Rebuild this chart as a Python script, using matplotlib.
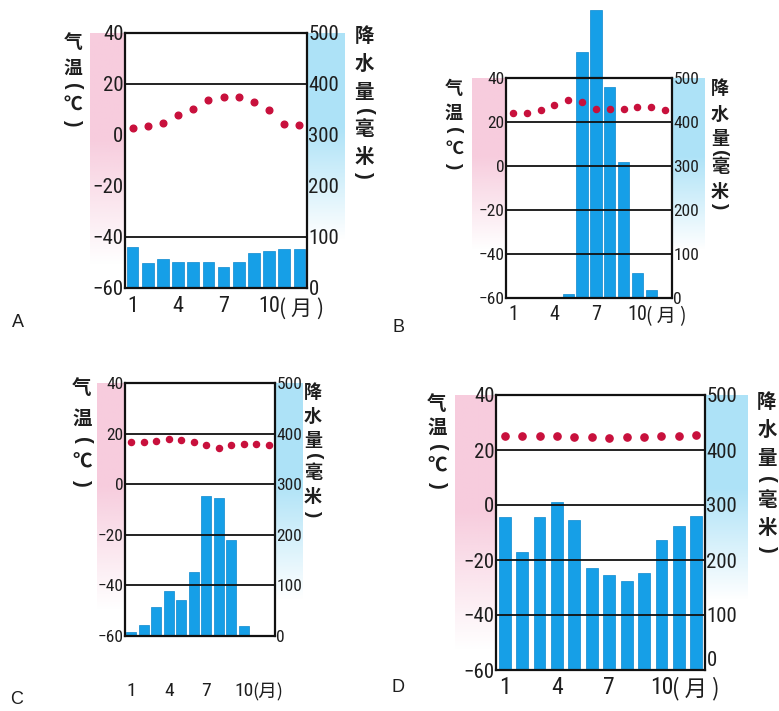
import numpy as np
import matplotlib
matplotlib.use("Agg")
import matplotlib.pyplot as plt
from matplotlib import font_manager as fm

plt.rcParams['font.family'] = ['Liberation Sans', 'Noto Sans CJK SC', 'DejaVu Sans']

# pick a narrow latin face for the numbers if one is installed
_names = {f.name for f in fm.fontManager.ttflist}
NUM_FAMILY = ['Liberation Sans']
NUM_STRETCH = 'normal'
for cand in ['Liberation Sans Narrow', 'Roboto Condensed', 'Open Sans Condensed']:
    if cand in _names:
        NUM_FAMILY = [cand]
        break
else:
    if any(f.name == 'DejaVu Sans' and str(f.stretch) == 'condensed'
           for f in fm.fontManager.ttflist):
        NUM_FAMILY = ['DejaVu Sans']
        NUM_STRETCH = 'condensed'
CJK = ['Noto Sans CJK SC', 'DejaVu Sans']

# ---------------- data ----------------
months = list(range(1, 13))
xtick_months = [1, 4, 7, 10]
xtick_labels = ["1", "4", "7", "10"]
month_unit = "(月)"

temp_ticks = [-60, -40, -20, 0, 20, 40]
temp_tick_labels = ["−60", "−40", "−20", "0", "20", "40"]
prec_ticks = [0, 100, 200, 300, 400, 500]
prec_tick_labels = ["0", "100", "200", "300", "400", "500"]

temp_label_chars = ["气", "温", "(", "℃", ")"]
prec_label_chars = ["降", "水", "量", "(", "毫", "米", ")"]

A_temp = [2.7, 3.5, 4.7, 7.8, 10, 13.7, 15, 15, 13, 9.8, 4.3, 3.9]
A_prec = [80, 49, 57, 51, 51, 51, 41, 51, 69, 73, 76, 76]
B_temp = [24, 24, 25.5, 27.7, 30, 29, 26, 26, 26, 27, 27, 25.5]
B_prec = [0, 0, 0, 2, 8, 560, 655, 479, 310, 57, 18, 2]
C_temp = [16.7, 16.7, 17.1, 18, 17.4, 16.7, 15.4, 14.5, 15.4, 16, 16, 15.4]
C_prec = [8, 21, 58, 89, 71, 127, 277, 272, 190, 20, 0, 0]
D_temp = [25.1, 25, 25, 25, 24.7, 24.6, 24.2, 24.6, 24.6, 25, 25, 25.5]
D_prec = [279, 215, 279, 306, 273, 185, 173, 161, 177, 236, 262, 280]

A_grid = [20, -40]
B_grid = [20, 0, -20, -40]
C_grid = [20, 0, -20, -40]
D_grid = [20, 0, -20, -40]

# ---------------- layout (pixels) ----------------
W, H = 779, 711
fig = plt.figure(figsize=(W / 100, H / 100), dpi=100)
fig.patch.set_facecolor("white")


def frac(L, T, R, B):
    return [L / W, 1 - B / H, (R - L) / W, (B - T) / H]


def px(x, y):
    return x / W, 1 - y / H


BAR = "#169fe7"
BAR_EDGE = "#0c88cf"
DOT = "#c8103c"
INK = "#1e1e1e"

panels = [
    dict(name="A", temp=A_temp, prec=A_prec, grid=A_grid, bw=0.78,
         box=(125, 33, 307, 288), pink=(90, 33, 125, 265), blue=(307, 33, 345, 240),
         tfs=15, xfs=16, xpad=6, spaced=True, zero_va="center_baseline",
         ll=dict(x=73, y0=42, s=26, p=0.7, fs=13.5),
         rl=dict(x=364, y0=37, s=28, p=0.65, fs=14),
         letter=(18, 323), ms=4.8, clip=True),
    dict(name="B", temp=B_temp, prec=B_prec, grid=B_grid, bw=0.82,
         box=(506, 78, 672, 298), pink=(472, 78, 506, 250), blue=(672, 78, 705, 250),
         tfs=12.5, xfs=14.5, xpad=5, spaced=True, zero_va="center_baseline",
         ll=dict(x=454, y0=88, s=25, p=0.7, fs=13),
         rl=dict(x=720, y0=89, s=25, p=0.55, fs=13),
         letter=(398, 328), ms=4.4, clip=False),
    dict(name="C", temp=C_temp, prec=C_prec, grid=C_grid, bw=0.8,
         box=(125, 383, 275, 636), pink=(97, 383, 125, 610), blue=(275, 383, 303, 600),
         tfs=12.5, xfs=14, xpad=33, spaced=False, zero_va="center_baseline",
         ll=dict(x=82, y0=389, s=30, p=0.72, fs=14),
         rl=dict(x=313, y0=393, s=23.5, p=0.7, fs=13),
         letter=(17, 700), ms=4.4, clip=True),
    dict(name="D", temp=D_temp, prec=D_prec, grid=D_grid, bw=0.68,
         box=(496, 395, 705, 670), pink=(455, 395, 496, 650), blue=(705, 395, 748, 600),
         tfs=15, xfs=17, xpad=4, spaced=True, zero_va="bottom",
         ll=dict(x=437, y0=404, s=24, p=0.8, fs=14),
         rl=dict(x=767, y0=402, s=28, p=0.75, fs=14),
         letter=(398, 688), ms=5.2, clip=True),
]


def band(ext, rgb, solid=0.45):
    ax = fig.add_axes(frac(*ext), zorder=-5)
    n = 200
    a = np.ones(n)
    k = int(n * solid)
    a[k:] = np.linspace(1, 0, n - k)
    img = np.zeros((n, 1, 4))
    img[:, 0, :3] = rgb
    img[:, 0, 3] = a
    ax.imshow(img, aspect="auto", extent=(0, 1, 0, 1), interpolation="bilinear")
    ax.set_axis_off()


def vertical_label(chars, spec):
    y = spec["y0"]
    prev_paren = False
    for i, ch in enumerate(chars):
        is_paren = ch in "()"
        if i > 0:
            step = spec["s"] * (spec["p"] if (is_paren or prev_paren) else 1.0)
            y += step
        if is_paren:
            fig.text(*px(spec["x"], y), ch, ha="center", va="center",
                     fontsize=spec["fs"] * 1.05, rotation=270, color=INK,
                     family=['Liberation Sans'], fontweight="bold")
        else:
            fig.text(*px(spec["x"], y), ch, ha="center", va="center",
                     fontsize=spec["fs"], color=INK, family=CJK, fontweight="bold")
        prev_paren = is_paren


def numfont(labels, fs):
    for t in labels:
        t.set_fontfamily(NUM_FAMILY)
        t.set_fontstretch(NUM_STRETCH)
        t.set_fontsize(fs)


for p in panels:
    band(p["pink"], (0.97, 0.80, 0.87))
    band(p["blue"], (0.68, 0.89, 0.97))

    ax = fig.add_axes(frac(*p["box"]), zorder=2)
    ax2 = ax.twinx()
    ax.set_zorder(ax2.get_zorder() + 1)
    ax.patch.set_visible(False)

    # precipitation bars
    bars = ax2.bar(months, p["prec"], width=p["bw"], color=BAR, edgecolor=BAR_EDGE,
                   linewidth=0.5, zorder=1)
    for b in bars:
        b.set_clip_on(p["clip"])
    ax2.set_ylim(0, 500)
    ax2.set_yticks(prec_ticks)
    ax2.set_yticklabels(prec_tick_labels)
    numfont(ax2.get_yticklabels(), p["tfs"])
    ax2.get_yticklabels()[0].set_verticalalignment(p["zero_va"])
    ax2.tick_params(axis="y", length=0, pad=1.0, colors=INK)

    # temperature
    for g in p["grid"]:
        ax.axhline(g, color="#111111", lw=1.3, zorder=3)
    ax.plot(months, p["temp"], linestyle="none", marker="o", ms=p["ms"],
            color=DOT, zorder=5, clip_on=False)
    ax.set_xlim(0.5, 12.5)
    ax.set_ylim(-60, 40)
    ax.set_yticks(temp_ticks)
    ax.set_yticklabels(temp_tick_labels)
    numfont(ax.get_yticklabels(), p["tfs"])
    ax.tick_params(axis="y", length=0, pad=1.0, colors=INK)
    ax.set_xticks(xtick_months)
    ax.set_xticklabels(xtick_labels)
    numfont(ax.get_xticklabels(), p["xfs"])
    ax.tick_params(axis="x", length=0, pad=p["xpad"], colors=INK)
    unit = " ".join(month_unit) if p["spaced"] else month_unit
    ax.annotate(unit, xy=(10, 0), xycoords=("data", "axes fraction"),
                xytext=(p["xfs"] * 0.45, -p["xpad"] - 1), textcoords="offset points",
                ha="left", va="top", fontsize=p["xfs"] * 0.95, color=INK, family=CJK)

    for sp in ax.spines.values():
        sp.set_linewidth(1.6)
        sp.set_color("#111111")
    for sp in ax2.spines.values():
        sp.set_visible(False)

    vertical_label(temp_label_chars, p["ll"])
    vertical_label(prec_label_chars, p["rl"])
    fig.text(*px(*p["letter"]), p["name"], ha="center", va="center", fontsize=13,
             color=INK)

fig.savefig("out.png", dpi=100, facecolor="white")
